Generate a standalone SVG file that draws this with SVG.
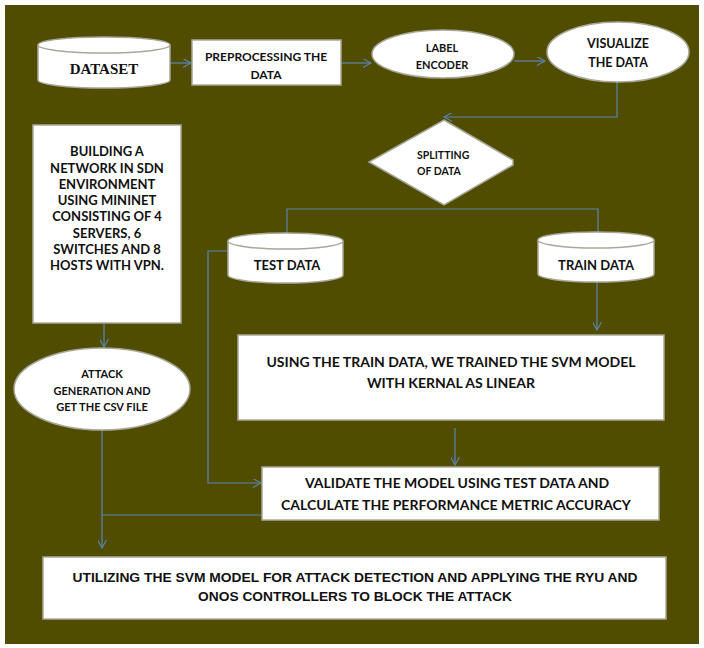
<svg xmlns="http://www.w3.org/2000/svg" width="704" height="648" viewBox="0 0 704 648">
<defs>
<marker id="arr" viewBox="0 0 10 10" refX="9" refY="5" markerWidth="9" markerHeight="9" markerUnits="userSpaceOnUse" orient="auto">
<path d="M0,0 L9,5 L0,10" fill="none" stroke="#5b86b3" stroke-width="1.2"/>
</marker>
<style>
.sh{fill:#ffffff;stroke:#a8a89a;stroke-width:1.5}
.t{font-family:Lato,"Open Sans","Liberation Sans",sans-serif;font-weight:bold;fill:#111;text-anchor:middle}
.a{font-family:"Liberation Sans",Arial,sans-serif;font-weight:bold;fill:#111;text-anchor:middle}
.c{fill:none;stroke:#5b86b3;stroke-width:1.2}
</style>
</defs>
<rect x="0" y="0" width="704" height="648" fill="#ffffff"/>
<rect x="5" y="5" width="694" height="639" fill="#514d00"/>

<g id="connectors">
<path class="c" d="M170,63 H191" marker-end="url(#arr)"/>
<path class="c" d="M341,63 H371" marker-end="url(#arr)"/>
<path class="c" d="M514,61 H545" marker-end="url(#arr)"/>
<path class="c" d="M617,82 V117 H444" marker-end="url(#arr)"/>
<path class="c" d="M444,209 H287 V245" marker-end="url(#arr)"/>
<path class="c" d="M444,209 H598 V247" marker-end="url(#arr)"/>
<path class="c" d="M597,282 V330" marker-end="url(#arr)"/>
<path class="c" d="M455,428 V465" marker-end="url(#arr)"/>
<path class="c" d="M228,251 H208 V483 H261" marker-end="url(#arr)"/>
<path class="c" d="M104,323 V347" marker-end="url(#arr)"/>
<path class="c" d="M102,413 V548" marker-end="url(#arr)"/>
<path class="c" d="M262,515 H102"/>
</g>

<g id="dataset">
<path class="sh" d="M38,45 A66,8 0 0 1 170,45 V80 A66,8 0 0 1 38,80 Z"/>
<path class="sh" d="M38,45 A66,8 0 0 0 170,45"/>
<text x="104" y="74" font-family="Liberation Serif,serif" font-weight="bold" font-size="15" fill="#111" text-anchor="middle">DATASET</text>
</g>

<g id="preprocessing">
<rect class="sh" x="192" y="40" width="149" height="45"/>
<text class="t" x="266" y="61" font-size="12">PREPROCESSING THE</text>
<text class="t" x="266" y="79" font-size="12">DATA</text>
</g>

<g id="label-encoder">
<ellipse class="sh" cx="443" cy="54" rx="71" ry="24"/>
<text class="t" x="442" y="52" font-size="11">LABEL</text>
<text class="t" x="442" y="69" font-size="11">ENCODER</text>
</g>

<g id="visualize">
<ellipse class="sh" cx="618" cy="52" rx="71" ry="30"/>
<text class="t" x="618" y="48" font-size="12.5">VISUALIZE</text>
<text class="t" x="618" y="67" font-size="12.5">THE DATA</text>
</g>

<g id="splitting">
<polygon class="sh" points="444,120 513,160 513,165 444,205 369,162"/>
<text class="t" x="417" y="159" font-size="10.5" style="text-anchor:start">SPLITTING</text>
<text class="t" x="417" y="175" font-size="10.5" style="text-anchor:start">OF DATA</text>
</g>

<g id="test-data">
<path class="sh" d="M228,241 A57.5,8 0 0 1 343,241 V275 A57.5,8 0 0 1 228,275 Z"/>
<path class="sh" d="M228,241 A57.5,8 0 0 0 343,241"/>
<text class="t" x="287" y="270" font-size="13">TEST DATA</text>
</g>

<g id="train-data">
<path class="sh" d="M538,240 A58,8 0 0 1 654,240 V274 A58,8 0 0 1 538,274 Z"/>
<path class="sh" d="M538,240 A58,8 0 0 0 654,240"/>
<text class="t" x="596" y="270" font-size="13">TRAIN DATA</text>
</g>

<g id="building-network">
<rect class="sh" x="33" y="125" width="148" height="198"/>
<text class="t" x="107" y="156" font-size="13">BUILDING A</text>
<text class="t" x="107" y="172.5" font-size="13">NETWORK IN SDN</text>
<text class="t" x="107" y="189" font-size="13">ENVIRONMENT</text>
<text class="t" x="107" y="205" font-size="13">USING MININET</text>
<text class="t" x="107" y="221" font-size="13">CONSISTING OF 4</text>
<text class="t" x="107" y="238" font-size="13">SERVERS, 6</text>
<text class="t" x="107" y="254" font-size="13">SWITCHES AND 8</text>
<text class="t" x="107" y="270" font-size="13">HOSTS WITH VPN.</text>
</g>

<g id="attack-generation">
<ellipse class="sh" cx="102" cy="389" rx="88" ry="41"/>
<text class="t" x="102" y="378" font-size="11">ATTACK</text>
<text class="t" x="102" y="395" font-size="11">GENERATION AND</text>
<text class="t" x="102" y="411" font-size="11">GET THE CSV FILE</text>
</g>

<g id="train-svm">
<rect class="sh" x="238" y="335" width="426" height="85"/>
<text class="t" x="451" y="367" font-size="14">USING THE TRAIN DATA, WE TRAINED THE SVM MODEL</text>
<text class="t" x="451" y="388" font-size="14">WITH KERNAL AS LINEAR</text>
</g>

<g id="validate">
<rect class="sh" x="262" y="467" width="397" height="53"/>
<text class="t" x="457" y="488" font-size="14">VALIDATE THE MODEL USING TEST DATA AND</text>
<text class="t" x="456" y="510" font-size="14">CALCULATE THE PERFORMANCE METRIC ACCURACY</text>
</g>

<g id="utilizing">
<rect class="sh" x="43" y="557" width="623" height="62"/>
<text class="a" x="355" y="582" font-size="13" textLength="565" lengthAdjust="spacingAndGlyphs">UTILIZING THE SVM MODEL FOR ATTACK DETECTION AND APPLYING THE RYU AND</text>
<text class="a" x="355" y="601" font-size="13" textLength="314" lengthAdjust="spacingAndGlyphs">ONOS CONTROLLERS TO BLOCK THE ATTACK</text>
</g>
</svg>
